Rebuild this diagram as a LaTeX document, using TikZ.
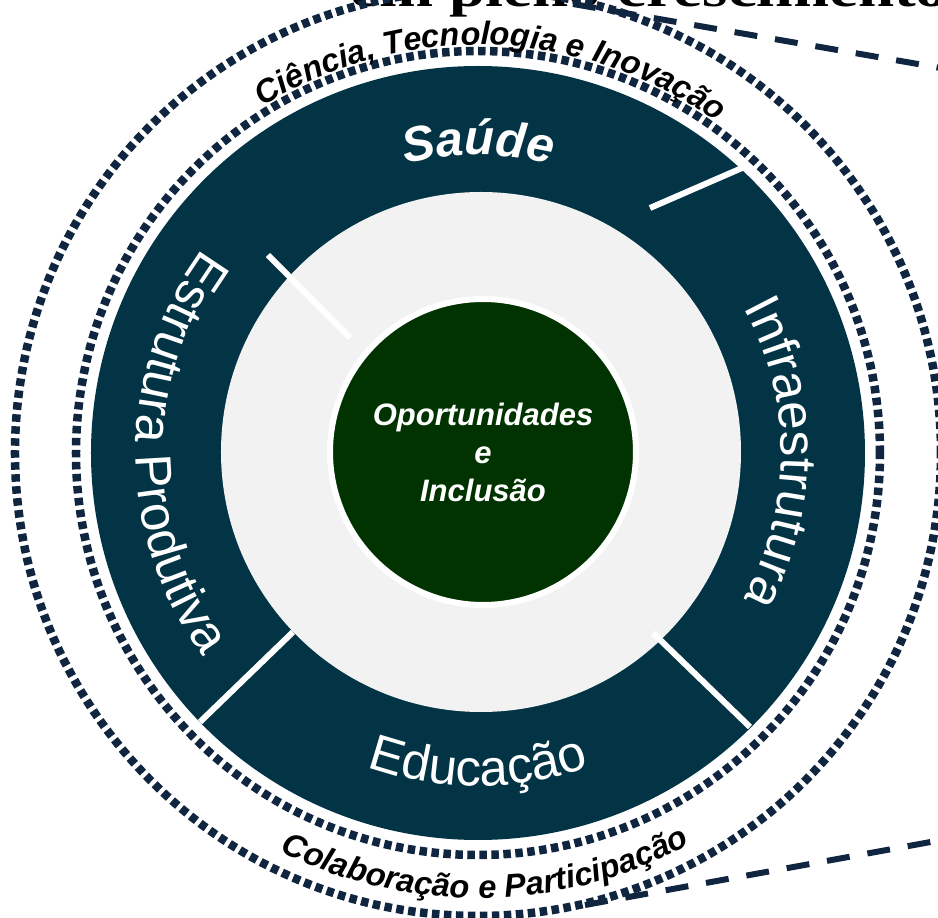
\documentclass[tikz,border=0pt]{standalone}
\usepackage{fontspec}
\usepackage{graphicx}
\setmainfont{Liberation Sans}
\newfontfamily\titleserif{Liberation Serif}
\usetikzlibrary{decorations.text}
\definecolor{ringblue}{HTML}{023446}
\definecolor{ringgray}{HTML}{F2F2F2}
\definecolor{coregreen}{HTML}{013300}
\definecolor{navy}{HTML}{10253F}
\newcommand\segfont{\fontsize{51}{55}\selectfont}
\newcommand\segbold{\bfseries\itshape\fontsize{49}{53}\selectfont}
\newcommand\rimfont{\bfseries\itshape\fontsize{32.5}{36}\selectfont}
\begin{document}
\begin{tikzpicture}[x=1pt,y=1pt,
  divider/.style={white, line width=6pt},
  dotring/.style={navy, line width=8.5pt, dash pattern=on 7.5pt off 4.5pt},
  callout/.style={navy, line width=6pt, dash pattern=on 23pt off 18pt},
  segtext/.style={decorate, decoration={text along path, text align=center, text color=white, text={#1}}},
  rimtext/.style={decorate, decoration={text along path, text align=center, text color=black, text={#1}}}]
\useasboundingbox (-478,-465) rectangle (460,453);
\clip (-478,-465) rectangle (460,453);
\fill[white] (-478,-465) rectangle (460,453);

% cut-off title
\node[anchor=base west, inner sep=0] (title) at (-128,446)
  {\titleserif\bfseries\fontsize{50}{54}\selectfont\scalebox{1.3}[1]{em pleno crescimento}};

% rings
\fill[ringblue] (0,0) circle[radius=387];
\fill[ringgray] (3,1) circle[radius=260];
\node[circle, fill=coregreen, draw=white, line width=6pt, minimum size=306pt, inner sep=0pt,
      text=white, align=center, font=\bfseries\itshape\fontsize{31}{38}\selectfont] (core) at (5,1)
  {Oportunidades\\e\\Inclusão};

% dividers
\coordinate (ulA) at (-210,198); \coordinate (ulB) at (-128,115);
\coordinate (urA) at (172,245);  \coordinate (urB) at (264,285);
\coordinate (lrA) at (175,-180); \coordinate (lrB) at (272,-274);
\coordinate (llA) at (-185,-179);\coordinate (llB) at (-278,-269);
\draw[divider] (ulA) -- (ulB);
\draw[divider] (urA) -- (urB);
\draw[divider] (lrA) -- (lrB);
\draw[divider] (llA) -- (llB);

% dotted rings
\draw[dotring] (0,0) circle[radius=402];
\draw[dotring] (0,0) circle[radius=463];

% callout dashed lines
\coordinate (tA) at (95,449); \coordinate (tB) at (480,382);
\coordinate (bA) at (107,-452); \coordinate (bB) at (480,-384);
\draw[callout] (tA) -- (tB);
\draw[callout] (bA) -- (bB);

% segment labels
\path[segtext={|\segbold|Saúde}] (130:298) arc[start angle=130, end angle=50, radius=298];
\path[segtext={|\segfont|Infraestrutura}] (65:303) arc[start angle=65, end angle=-65, radius=303];
\path[segtext={|\segfont|Estrutura Produtiva}] (105:342) arc[start angle=105, end angle=255, radius=342];
\path[segtext={|\segfont|Educação}] (240:333) arc[start angle=240, end angle=300, radius=333];

% rim labels
\path[rimtext={|\rimfont|Ciência, Tecnologia e Inovação}] (150:408) arc[start angle=150, end angle=26, radius=408];
\path[rimtext={|\rimfont|Colaboração e Participação}] (212:445) arc[start angle=212, end angle=330, radius=445];
\end{tikzpicture}
\end{document}
